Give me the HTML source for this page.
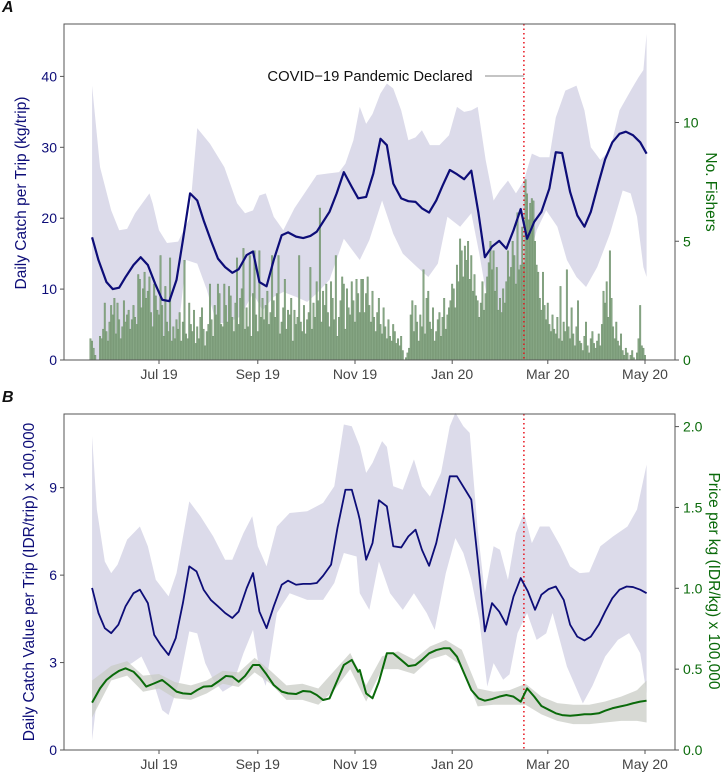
<!DOCTYPE html>
<html><head><meta charset="utf-8"><style>
html,body{margin:0;padding:0;background:#fff;}
svg{display:block;font-family:"Liberation Sans",sans-serif;}
</style></head><body>
<svg id="chart" width="721" height="773" viewBox="0 0 721 773"></svg>
<script>
// ---------- DATA (days since 2019-07-01) ----------
const tickLabels = ["Jul 19","Sep 19","Nov 19","Jan 20","Mar 20","May 20"];
const tickDays = [0,62,123,184,244,305];
const pandemicDay = 229;
const pandemicLabel = "COVID\u221219 Pandemic Declared";

const catchDays = [-42,-38,-33,-29,-25,-21,-16,-11.5,-7,-2.5,2,6.5,11,15,19.5,24,28,32.5,37,41.5,46,50,55,59,63,67.5,72,77,81,86,90.5,95,99,103,107,111.5,116,121,125,130,134.5,139,143,147,152,156.5,161,165,169.5,174,178,182.5,187,191.5,196,200.5,204.5,209,213.5,218,222.5,227,231,235.5,240,245,249,253,258,262.5,267,271,276,280,284.5,289,293,297.5,302,306];
const catchVals = [17.3,14.1,11.0,10.0,10.2,11.7,13.4,14.5,13.4,10.8,8.5,8.3,11.3,16.9,23.5,22.5,19.7,16.9,14.3,13.1,12.3,12.8,14.8,15.3,11.0,10.4,14.1,17.6,18.0,17.4,17.2,17.5,18.1,19.5,20.9,23.5,26.5,24.4,22.8,23.0,26.3,31.2,30.3,24.9,22.8,22.4,22.3,21.4,20.8,22.5,24.6,26.8,26.2,25.5,26.7,20.7,14.5,16.0,16.8,15.7,18.3,21.3,17.1,19.5,20.9,24.2,29.3,29.2,23.7,20.4,18.8,20.9,25.1,28.3,30.7,31.9,32.2,31.7,30.7,29.1];

const catchHiDays = [-42,-37,-30,-25,-20,-15,-6,-4,0,5,12,19,24,32,41,49,54,59,63,67,72,78,85,99,106,113,117,122,126,130,134,139,143,147,152,156.5,161,165,170,176,182,187,191.5,196,200,205,210,214,219,224,229,234,239,245,249,255,262,267,271,277,283,289,296,301,304,306];
const catchHi = [38.7,27.2,21.1,18.3,18.5,20.7,23.5,22.1,18.3,16.5,16.7,19.9,32.7,30.5,27.2,22.1,20.7,21.1,23.2,23.5,20.2,18.3,21.4,26.1,26.3,26.5,27.7,31.0,35.7,33.3,34.7,37.6,39.0,38.3,35.2,31.0,31.4,32.4,30.3,30.3,31.7,35.7,35.0,35.2,35.7,28.2,22.5,23.9,25.3,23.5,25.3,29.1,28.6,28.6,34.2,38.0,38.7,35.2,30.0,28.2,29.6,35.2,38.0,39.9,40.9,46.0];
const catchLoDays = [-42,-10,10,17,24,30,36,42,51,59,65,72,78,86,93,99,107,116,126,132,140,147,153,162,169,175,181,189,196,201,206,212,218,224,231,237,243,250,256,262,268,275,283,291,296,300,304,306];
const catchLo = [0,0,0,14.1,13.6,9.9,5.2,5.2,6.1,9.4,7.0,8.9,9.6,8.9,8.2,9.4,11.3,17.1,14.1,16.9,22.5,17.8,15.0,13.1,11.7,13.6,20.2,18.8,20.7,15.0,8.5,3.8,0,2.8,13.1,18.3,21.1,18.8,14.1,11.7,10.3,13.1,17.8,23.9,23.5,20.2,13.1,11.7];

const fisherStartDay = -43;
const fishers = [
0.9,0.8,0.5,0.2,0,0,1.0,0.9,1.3,2.4,
1.2,0.8,1.6,2.3,1.9,2.6,1.1,2.4,1.7,0.9,
1.4,2.5,1.6,1.9,2.1,1.3,1.7,2.3,1.8,1.5,
3.6,3.4,2.2,3.0,3.7,2.6,2.9,3.5,2.0,1.4,
3.2,2.7,2.1,1.9,4.4,2.3,1.0,3.1,1.6,1.2,
4.3,0.8,1.4,0.9,1.7,1.3,2.0,0.8,1.6,4.2,
1.1,0.9,2.4,1.5,1.2,2.1,0.7,1.4,0.9,1.8,
2.2,1.3,0.6,1.2,1.5,3.2,1.7,1.0,2.3,1.9,
3.2,2.8,1.5,1.4,3.2,2.3,1.6,3.1,2.7,1.8,
1.2,2.4,4.3,1.5,2.6,3.0,4.7,1.3,2.2,1.4,
4.4,1.0,2.8,4.6,1.9,1.2,4.6,1.8,2.6,1.7,
2.3,2.9,1.5,2.0,4.4,2.5,1.8,2.8,4.4,1.1,
1.6,2.2,3.4,1.3,2.1,1.9,2.6,0.8,2.1,1.5,
1.8,4.4,1.6,1.2,2.3,1.1,1.7,2.0,3.9,1.3,
2.4,1.8,3.3,2.5,6.4,1.6,2.9,2.3,3.2,2.0,
1.4,3.3,2.6,1.7,4.4,1.0,1.8,2.5,3.5,3.2,
1.3,3.0,2.2,1.9,3.3,2.5,1.6,3.4,2.8,2.0,
3.4,3.4,2.0,2.8,3.5,2.3,1.6,2.9,1.8,1.2,
2.0,2.6,1.5,1.1,2.2,1.4,0.9,1.7,1.0,0.8,
1.5,1.2,0.7,0.9,0.6,1.0,0.4,0.0,0.1,0.3,
0.5,1.9,2.5,1.2,2.3,1.6,0.8,1.9,1.4,3.8,
1.1,2.6,2.9,1.6,1.3,2.2,0.8,1.2,1.7,2.0,
1.0,1.8,2.6,1.3,1.9,2.2,2.5,3.2,3.0,2.2,
4.0,3.3,5.1,4.6,3.5,4.8,4.2,5.0,3.4,4.4,
2.9,3.6,2.7,2.5,1.8,2.4,3.3,2.1,2.8,3.5,
4.1,5.0,3.8,4.6,2.9,3.9,2.1,2.6,2.0,3.0,
2.4,3.3,4.6,3.5,3.9,5.0,4.4,3.2,6.2,3.8,
4.0,5.6,4.1,7.6,7.0,5.9,6.6,6.8,6.7,5.0,
4.0,3.7,2.6,2.1,3.7,2.3,1.7,2.4,1.5,1.2,
1.9,1.3,1.1,1.8,0.9,3.1,0.8,1.6,1.2,3.8,
1.4,0.9,2.2,1.1,0.6,1.4,2.5,0.8,0.7,0.4,
1.0,1.6,0.6,0.3,0.9,1.2,0.7,0.5,0.8,1.1,
0.6,1.5,2.9,2.4,3.3,1.8,4.6,2.6,1.4,0.9,
1.6,0.8,0.6,1.1,0.4,0.2,0.5,0.3,0.0,0.2,
0.4,0.1,0.0,0.3,0.9,2.3,0.6,0.5,0.2,0.0];

const valueDays = [-42,-38,-34,-30,-25.5,-21,-16,-12,-7,-3,1,6,10.5,15,19,23.5,28,32.5,37,41.5,46,50,55,59,63,67.5,72,77,81,86,90.5,95,99,103,108,112,117,121,125,126,130,134,138,143,147,152,156.5,161,165,169.5,174,178.5,182.5,187,191.5,196,200.5,204.5,209,213.5,218,222.5,227,231.5,236,240,244.5,249,254,258,262.5,267,271,276,280,284.5,289,293.5,297.5,302,306];
const valueVals = [5.56,4.70,4.18,4.01,4.30,4.93,5.38,5.50,5.04,3.95,3.61,3.26,3.84,5.04,6.30,6.13,5.50,5.15,4.93,4.70,4.53,4.75,5.55,6.07,4.75,4.18,4.93,5.67,5.81,5.67,5.70,5.70,5.73,5.98,6.36,7.62,8.93,8.93,8.13,7.90,6.53,7.10,8.57,8.36,6.99,6.95,7.33,7.56,6.87,6.32,7.10,8.25,9.39,9.39,8.99,8.59,6.30,4.07,5.04,4.75,4.30,5.27,5.90,5.44,4.81,5.33,5.52,5.61,5.15,4.30,3.89,3.76,3.89,4.30,4.75,5.21,5.50,5.61,5.59,5.50,5.38];
const valueHiDays = [-42,-39,-34,-30,-26,-20,-12,-7,-2,6,11,19,26,34,41.5,46,53,58.5,62,67.5,74,82,93,103,110,116,121,126,130,134,140,143,147,153,160,165,170,177,182.5,186,191,195,200,204.5,210,214,219,224,229,234,239,245,252,258,264,270,277,285,294,300,306];
const valueHi = [10.77,8.25,6.47,6.07,6.36,7.22,7.67,6.99,5.84,5.27,6.07,8.53,8.02,7.33,6.53,6.53,7.44,8.02,6.99,6.30,7.67,8.13,8.19,8.48,9.05,11.17,11.11,10.42,9.51,9.85,10.60,10.40,9.05,8.93,9.97,9.05,8.70,9.51,11.11,11.57,11.11,10.88,7.56,5.38,6.99,6.87,5.84,7.44,8.13,7.10,7.67,7.67,6.99,6.30,6.07,6.10,6.99,7.33,7.67,8.25,9.79];
const valueLoDays = [-42,-39,-33,-26,-17,-11,-4,2,6,13,19,24,29,34,40,46,53,59,63,67,74,82,93,103,110,116,124,126,132,138,145,153,160,168,173,180,186,191,196,201,206,210,216,220,225,231,237,243,247,256,266,272,280,288,295,302,306];
const valueLo = [0.34,1.72,2.41,2.75,2.98,3.21,2.41,1.37,1.20,2.41,4.07,4.00,2.98,2.41,2.00,2.20,3.32,4.12,2.75,2.20,4.70,5.38,5.15,5.15,5.73,6.76,6.64,5.38,4.81,6.47,5.38,4.81,5.38,4.70,4.12,6.07,7.27,6.76,5.84,4.47,2.18,2.98,2.41,2.60,4.01,4.70,3.78,4.00,4.70,2.86,1.60,2.20,3.21,3.78,4.01,3.32,1.95];

const priceDays = [-42,-37,-33,-29,-25,-21,-16,-12,-8,-3,2,6,11,15,20,24,28,33,37,42,46,50,54,59,63,67,72,77,81,86,90.5,95,99,103,107,112,116,121,125,126,130,134,138,143,147,152,156.5,161,165,169.5,174,178.5,182.5,187,191.5,196,200.5,204.5,209,213.5,218,222.5,227,231,235.5,240,245,249,253,258,262.5,267,271,276,280,284.5,289,293.5,297.5,302,306];
const priceVals = [0.293,0.381,0.433,0.464,0.490,0.505,0.484,0.443,0.392,0.412,0.433,0.402,0.361,0.350,0.346,0.371,0.392,0.395,0.422,0.458,0.454,0.422,0.458,0.526,0.526,0.474,0.402,0.361,0.350,0.346,0.365,0.361,0.340,0.309,0.319,0.433,0.526,0.557,0.484,0.495,0.350,0.320,0.422,0.598,0.598,0.557,0.519,0.526,0.557,0.598,0.618,0.629,0.629,0.577,0.474,0.371,0.320,0.305,0.315,0.330,0.340,0.330,0.299,0.381,0.330,0.272,0.247,0.227,0.216,0.212,0.216,0.221,0.221,0.227,0.243,0.258,0.268,0.278,0.289,0.299,0.305];
const priceBandDays = [-42,-30,-20,-10,0,10,20,30,40,50,60,70,80,90,100,110,120,130,140,150,160,170,180,190,200,210,220,230,240,250,260,270,280,290,300,306];
const priceHi = [0.43,0.52,0.55,0.46,0.47,0.42,0.40,0.43,0.49,0.48,0.57,0.49,0.40,0.41,0.38,0.49,0.60,0.40,0.58,0.61,0.56,0.64,0.68,0.62,0.38,0.36,0.37,0.41,0.33,0.29,0.28,0.28,0.30,0.33,0.37,0.43];
const priceLo = [0.20,0.43,0.46,0.36,0.38,0.32,0.31,0.35,0.41,0.39,0.48,0.41,0.31,0.31,0.28,0.37,0.50,0.30,0.50,0.50,0.47,0.56,0.59,0.52,0.27,0.28,0.28,0.28,0.22,0.18,0.16,0.16,0.17,0.18,0.18,0.17];

const catchTicks = [0,10,20,30,40];
const fisherTicks = [0,5,10];
const valueTicks = [0,3,6,9];
const valueTickLabels = ["0","3","6","9"];
const priceTicks = [0,0.5,1.0,1.5,2.0];
const priceTickLabels = ["0.0","0.5","1.0","1.5","2.0"];

// ---------- RENDER ----------
const NS = "http://www.w3.org/2000/svg";
const svg = document.getElementById("chart");
const NAVY = "#0d0d78", GREEN = "#0a6a0a", AXIS = "#555";
const PL = 64, PR = 675;
function xs(d){ return 159 + d * (486/305); }
function mk(tag, attrs, parent){ const e = document.createElementNS(NS, tag); for (const k in attrs) e.setAttribute(k, attrs[k]); (parent||svg).appendChild(e); return e; }
function lin(d0,d1,r0,r1){ return v => r0 + (v-d0)/(d1-d0)*(r1-r0); }
function pathOf(days, vals, ys){ return days.map((d,i)=>(i?"L":"M")+xs(d).toFixed(2)+","+ys(vals[i]).toFixed(2)).join(""); }
function bandOf(hd, hv, ld, lv, ys){
  let p = hd.map((d,i)=>(i?"L":"M")+xs(d).toFixed(2)+","+ys(hv[i]).toFixed(2)).join("");
  for (let i = ld.length-1; i >= 0; i--) p += "L"+xs(ld[i]).toFixed(2)+","+ys(lv[i]).toFixed(2);
  return p + "Z";
}

function panel(top, bottom, letter, name){
  const g = mk("g", {});
  
  
  const t = mk("text", {x:2, y:top-12, "font-size":"16", "font-weight":"bold", "font-style":"italic", fill:"#111"}, g);
  t.textContent = letter;
  
  
  return g;
}
function xAxis(g, bottom){
  const ax = mk("g", {}, g);
  
  
  tickDays.forEach((d,i)=>{
    mk("line", {x1:xs(d), x2:xs(d), y1:bottom, y2:bottom+4, stroke:AXIS, "stroke-width":1}, ax);
    const t = mk("text", {x:xs(d), y:bottom+19, "text-anchor":"middle", "font-size":"14", fill:"#444"}, ax);
    t.textContent = tickLabels[i];
    
    
  });
}
function yAxis(g, ticks, labels, ys, side, color, nm){
  const ax = mk("g", {}, g);
  
  
  ticks.forEach((v,i)=>{
    const y = ys(v);
    const x0 = side === "left" ? PL : PR;
    mk("line", {x1:x0, x2: side==="left"? x0-4 : x0+4, y1:y, y2:y, stroke:AXIS}, ax);
    const t = mk("text", {x: side==="left"? x0-7 : x0+8, y:y+5, "text-anchor": side==="left"?"end":"start", "font-size":"14", fill:color}, ax);
    t.textContent = labels[i];
    
    
  });
}
function axisTitle(g, text, x, y, rot, color, nm){
  const t = mk("text", {x:x, y:y, transform:`rotate(${rot} ${x} ${y})`, "text-anchor":"middle", "font-size":"15.5", fill:color}, g);
  t.textContent = text;
  
  
}
function frame(g, top, bottom){
  mk("path", {d:`M${PL},${top}H${PR}V${bottom}H${PL}Z`, fill:"none", stroke:AXIS, "stroke-width":1}, g);
}
function vline(g, top, bottom){
  const l = mk("line", {x1:xs(pandemicDay), x2:xs(pandemicDay), y1:top, y2:bottom, stroke:"#e8141e", "stroke-width":1.5, "stroke-dasharray":"1.5,3"}, g);
  
  
}

// Panel A
const A_TOP = 24, A_BOT = 360;
const yCatch = lin(0, 10, A_BOT, 289.1);
const yFish = lin(0, 10, A_BOT, 122.5);
const gA = panel(A_TOP, A_BOT, "A", "panel-a");
const bandA = mk("path", {d:bandOf(catchHiDays, catchHi, catchLoDays, catchLo, yCatch), fill:"#dcdbea"}, gA);


const barsA = mk("g", {}, gA);


const bw = 486/305;
fishers.forEach((v,i)=>{
  if (v <= 0) return;
  const x = xs(fisherStartDay + i);
  const b = mk("rect", {x:(x-bw/2).toFixed(2), y:yFish(v).toFixed(2), width:(bw*0.95).toFixed(2), height:(A_BOT-yFish(v)).toFixed(2), fill:"#87a785", stroke:"#6f8f6c", "stroke-width":0.4}, barsA);
  
  
});
vline(gA, A_TOP, A_BOT);
const lineA = mk("path", {d:pathOf(catchDays, catchVals, yCatch), fill:"none", stroke:NAVY, "stroke-width":2.2, "stroke-linejoin":"round"}, gA);


const ann = mk("text", {x:370, y:81, "text-anchor":"middle", "font-size":"14.8", fill:"#111"}, gA);
ann.textContent = pandemicLabel;


mk("line", {x1:485, x2:xs(pandemicDay), y1:76, y2:76, stroke:"#888", "stroke-width":1}, gA);
frame(gA, A_TOP, A_BOT);
xAxis(gA, A_BOT);
yAxis(gA, catchTicks, catchTicks.map(String), yCatch, "left", NAVY, "catch-y-axis");
yAxis(gA, fisherTicks, fisherTicks.map(String), yFish, "right", GREEN, "fishers-y-axis");
axisTitle(gA, "Daily Catch per Trip (kg/trip)", 26, 193, -90, NAVY, "catch-axis-title");
axisTitle(gA, "No. Fishers", 706, 192, 90, GREEN, "fishers-axis-title");

// Panel B
const B_TOP = 414, B_BOT = 750;
const yVal = lin(0, 9, B_BOT, 487.7);
const yPrice = lin(0, 2, B_BOT, 426.6);
const gB = panel(B_TOP, B_BOT, "B", "panel-b");
const bandB = mk("path", {d:bandOf(valueHiDays, valueHi, valueLoDays, valueLo, yVal), fill:"#dcdbea"}, gB);


const bandP = mk("path", {d:bandOf(priceBandDays, priceHi, priceBandDays, priceLo, yPrice), fill:"#c9ccc6", "fill-opacity":0.75}, gB);


vline(gB, B_TOP, B_BOT);
const lineV = mk("path", {d:pathOf(valueDays, valueVals, yVal), fill:"none", stroke:NAVY, "stroke-width":1.8, "stroke-linejoin":"round"}, gB);


const lineP = mk("path", {d:pathOf(priceDays, priceVals, yPrice), fill:"none", stroke:GREEN, "stroke-width":2, "stroke-linejoin":"round"}, gB);


frame(gB, B_TOP, B_BOT);
xAxis(gB, B_BOT);
yAxis(gB, valueTicks, valueTickLabels, yVal, "left", NAVY, "value-y-axis");
yAxis(gB, priceTicks, priceTickLabels, yPrice, "right", GREEN, "price-y-axis");
axisTitle(gB, "Daily Catch Value per Trip (IDR/trip) x 100,000", 34, 582, -90, NAVY, "value-axis-title");
axisTitle(gB, "Price per kg (IDR/kg) x 100,000", 709, 581, 90, GREEN, "price-axis-title");
</script>
</body></html>
